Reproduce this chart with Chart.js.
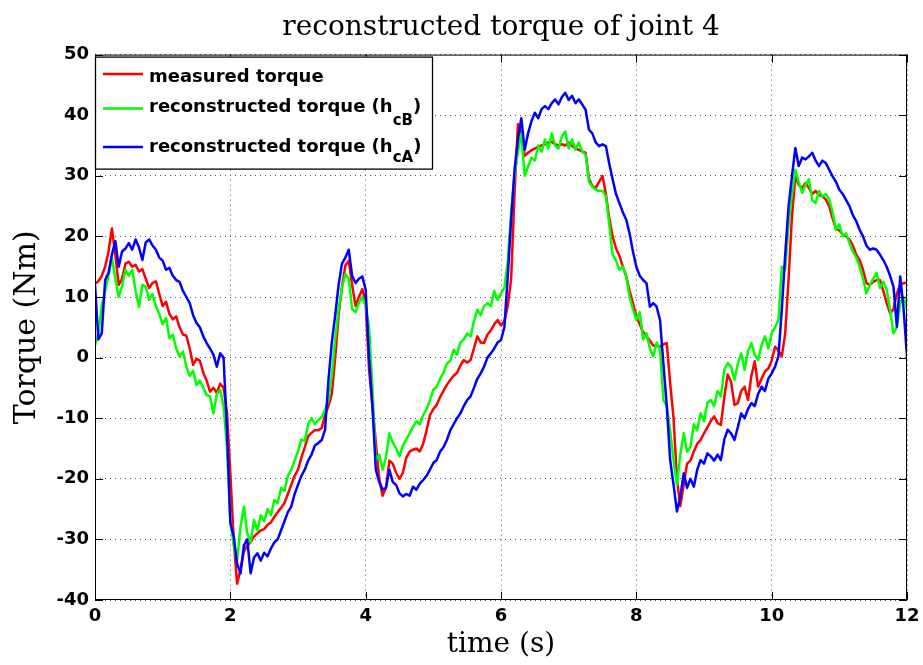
<!DOCTYPE html>
<html><head><meta charset="utf-8">
<script src="https://cdn.jsdelivr.net/npm/chart.js@4"></script>
<style>html,body{margin:0;padding:0;background:#fff;overflow:hidden}canvas{display:block}</style>
</head><body>
<canvas id="c" width="923" height="665"></canvas>
<script>
const titleText = 'reconstructed torque of joint 4';
const xTitle = 'time (s)';
const yTitle = 'Torque (Nm)';
const xTicks = [0, 2, 4, 6, 8, 10, 12];
const yTicks = [-40, -30, -20, -10, 0, 10, 20, 30, 40, 50];
const seriesNames = ['measured torque', 'reconstructed torque (hcB)', 'reconstructed torque (hcA)'];
const legendMain = ['measured torque', 'reconstructed torque (h', 'reconstructed torque (h'];
const legendSub = ['', 'cB', 'cA'];
const legendTail = ['', ')', ')'];
const seriesColors = ['#ff0000', '#00ff00', '#0000ff'];

const time = [0,0.05,0.1,0.15,0.2,0.25,0.3,0.35,0.4,0.45,0.5,0.55,0.6,0.65,0.7,0.75,0.8,0.85,0.9,0.95,
1,1.05,1.1,1.15,1.2,1.25,1.3,1.35,1.4,1.45,1.5,1.55,1.6,1.65,1.7,1.75,1.8,1.85,1.9,1.95,
2,2.05,2.1,2.15,2.2,2.25,2.3,2.35,2.4,2.45,2.5,2.55,2.6,2.65,2.7,2.75,2.8,2.85,2.9,2.95,
3,3.05,3.1,3.15,3.2,3.25,3.3,3.35,3.4,3.45,3.5,3.55,3.6,3.65,3.7,3.75,3.8,3.85,3.9,3.95,
4,4.05,4.1,4.15,4.2,4.25,4.3,4.35,4.4,4.45,4.5,4.55,4.6,4.65,4.7,4.75,4.8,4.85,4.9,4.95,
5,5.05,5.1,5.15,5.2,5.25,5.3,5.35,5.4,5.45,5.5,5.55,5.6,5.65,5.7,5.75,5.8,5.85,5.9,5.95,
6,6.05,6.1,6.15,6.2,6.25,6.3,6.35,6.4,6.45,6.5,6.55,6.6,6.65,6.7,6.75,6.8,6.85,6.9,6.95,
7,7.05,7.1,7.15,7.2,7.25,7.3,7.35,7.4,7.45,7.5,7.55,7.6,7.65,7.7,7.75,7.8,7.85,7.9,7.95,
8,8.05,8.1,8.15,8.2,8.25,8.3,8.35,8.4,8.45,8.5,8.55,8.6,8.65,8.7,8.75,8.8,8.85,8.9,8.95,
9,9.05,9.1,9.15,9.2,9.25,9.3,9.35,9.4,9.45,9.5,9.55,9.6,9.65,9.7,9.75,9.8,9.85,9.9,9.95,
10,10.05,10.1,10.15,10.2,10.25,10.3,10.35,10.4,10.45,10.5,10.55,10.6,10.65,10.7,10.75,10.8,10.85,10.9,10.95,
11,11.05,11.1,11.15,11.2,11.25,11.3,11.35,11.4,11.45,11.5,11.55,11.6,11.65,11.7,11.75,11.8,11.85,11.9,11.95,
12];

const measured = [12.2,12.6,13.5,15,17.5,21.3,17,12,13,15.5,
15.8,15,15.3,14.2,14.6,13,11.5,12.3,12.6,10.5,
8.5,9.2,7.2,6.3,6.8,5,3.8,3.6,1.5,-1.2,
-0.2,-0.5,-2.5,-3.8,-5.6,-5,-5.8,-4.3,-5,-9,
-19,-30,-37.3,-35,-32,-31,-30.5,-29.5,-29,-28.5,
-28.3,-27.6,-27.2,-26.3,-25.5,-24.8,-24,-22.5,-21,-19.5,
-18.5,-16.5,-14.8,-13,-12.4,-12,-12,-11.6,-9.5,-8,
-6,0,7,11.7,15.2,16,12,8.5,10,11.3,
9,-2,-8,-14,-20,-22.8,-21.5,-17,-17.5,-19,
-20,-19,-16.5,-15.5,-15.2,-15,-15.5,-14.2,-12,-9.5,
-8.5,-7.8,-6.5,-5.5,-4.5,-3.7,-3,-2.5,-1.3,-0.4,
-0.8,-0.4,1.5,3.5,2.5,2.4,3.8,4.5,5.5,6.2,
5.3,6,8.5,13,27,38.5,37,33.3,33.8,34.2,
34.5,34.8,35,35.2,35.5,35.6,35.2,35,35.2,35,
35.5,34.9,34.5,34.3,34,33.8,29.5,28.3,28,29,
30,27,23,20,18,16.8,15,13.5,11,9,
6.8,5.5,4.2,3.5,2.8,2,1.9,1.8,2.2,2.4,
-4.2,-10,-20,-24.5,-21,-17.5,-17,-15.5,-14.2,-13.6,
-12.5,-11.5,-10.5,-9.7,-10.8,-11.1,-6.5,-2.8,-4,-7.8,
-7.5,-5.5,-4.8,-7,-3,-0.6,-4.8,-3.5,-2.3,-1.8,
-0.5,1.8,1.2,0.2,4,13,23.3,29.9,28.5,28,
28.8,28,27,27.5,26.8,26.6,26.1,25,23,21.2,
21,20.3,20,19.5,18.5,17,16.1,14.5,12.3,12,
12.5,12.8,12.8,11,9,7.3,8,10.6,12,12.3,
12.3];

const hcB = [2,4,8.5,11,13.5,16.5,13,10,11.8,14.5,
13.5,14.5,11,8.4,12,11.7,9.5,10.5,8.5,7.2,
5.5,6.5,3.2,3.8,1.5,0.2,1,-1.5,-3,-2.2,
-4.5,-3.8,-5,-6.2,-6.4,-9.2,-6,-5.3,-8,-14.7,
-26.8,-31,-33.4,-28,-24.6,-29,-30.5,-26.8,-28.5,-26,
-27,-25,-26,-23.5,-24,-21.5,-22,-19.5,-18.5,-17,
-15.5,-13.5,-13.8,-11,-10,-11,-10.3,-9.8,-8.6,-7,
-3,3,8,11.5,13.8,13,8,7.5,9,10,
8.5,5,-5,-17,-16,-18.5,-16.5,-12.5,-14,-15,
-16.3,-14.5,-13.5,-12.5,-11.4,-10.5,-11,-9.5,-8.5,-7,
-5.3,-4.8,-3.5,-2.5,-1,-0.5,1.3,0.5,2.5,3,
4,3.5,6,7.9,7,8.5,9,8.5,11,9.5,
10.6,11.5,16,24,30,34,37,30,31.5,33,
32.5,35,34,36,34.5,37,35,34.5,36.5,37.3,
34.5,36,34.3,35.5,34,33.5,29,28.2,27.7,27.5,
27.5,26.6,22,17,16,14.5,15,13.4,10,8,
6.2,7.5,3,4,1.5,0.2,2.5,1.3,-7,-8,
-12,-17,-21,-16,-12.5,-15.5,-14.7,-11,-12,-9.2,
-10.5,-7.5,-7,-8,-5.5,-6.4,-2,-0.9,-1.5,-3.7,
-1,0.7,-2,1,2.4,0.5,-0.4,2,3.5,1.5,
4,5,6.2,15,14.5,22,27,31,29,27.2,
28.5,29.4,26,25.5,27.5,26.6,27,26.1,24,21.1,
22,20,20.5,18.9,17.5,16.5,15,13,10.6,12,
13,14,11.5,12.5,11.2,7.9,4,5,9,10,
8];

const hcA = [12,3,4,12.8,14,17,19.2,15,17.5,18,
18.9,17.8,19.5,18.2,16.1,19,19.5,18.5,17.8,16.5,
16,14.5,14.8,13.5,12.8,12.5,11,10,9,7,
5.7,5,3.5,2.4,1.5,0.5,-1.5,0.7,0,-11.9,
-27.3,-29.5,-34,-35.6,-31,-30,-35.6,-33,-32.3,-33.5,
-32.2,-32.8,-31.5,-30.5,-30,-28.5,-27,-25.5,-24.6,-22.5,
-21,-19.5,-18.5,-17,-16,-14.5,-14.1,-13.6,-11.9,-3.7,
2.5,7,12,15.5,16.5,17.8,13.5,12.3,13,13.4,
11.2,0,-8,-18.5,-20.5,-21.8,-21.5,-18.5,-20.5,-21,
-22.4,-22.9,-22.5,-22.8,-21.3,-21.8,-20.8,-20.2,-19.5,-18.5,
-17.4,-16.9,-15.5,-14.8,-13.6,-12,-11,-10,-9.2,-8,
-7,-6.4,-5,-3.5,-2.6,-1.5,0,0.7,1.5,2.5,
2.9,5,13.4,22.8,31,36,39.5,34.3,37,39,
40.4,39.5,41,41.5,41,42,42.6,41.8,43,43.7,
42.5,43.2,42,42.6,41.8,40.9,37.6,37,35.5,34.9,
35.2,34.9,32,29.4,27,25.5,24,22.8,20.5,17.5,
15,13.5,12.8,12.3,8.4,9,8.4,6.2,-1,-8,
-16.9,-21,-25.4,-23,-19.1,-21.5,-20,-21.3,-18.5,-16.9,
-17.5,-15.8,-16.3,-17,-16,-16.9,-13.5,-11.9,-12.5,-13.6,
-11.5,-9.2,-10,-8.5,-7.5,-8,-6,-4.8,-5.5,-3.5,
-2.6,-1.5,0.2,8,17,25,29.9,34.6,31.6,33,
32.7,33.2,33.8,32.5,31.6,32.5,32.1,31,29.9,29,
27.7,27,26,25,23.5,22.5,21.1,20,18.5,17.8,
18,17.8,17,16.1,15,13.5,11.7,5.1,13.4,8,
0.2];

const seriesValues = [measured, hcB, hcA];

const frameAndLegend = {
  id: 'frameAndLegend',
  afterDatasetsDraw(chart) {
    const {ctx, chartArea: a, scales: {x, y}} = chart;
    ctx.save();
    ctx.strokeStyle = '#000';
    ctx.lineWidth = 1;
    ctx.strokeRect(a.left + 0.5, a.top + 0.5, a.right - a.left - 1, a.bottom - a.top - 1);
    const L = 8;
    ctx.beginPath();
    xTicks.forEach(v => {
      const px = Math.round(x.getPixelForValue(v)) + 0.5;
      ctx.moveTo(px, a.bottom); ctx.lineTo(px, a.bottom - L);
      ctx.moveTo(px, a.top); ctx.lineTo(px, a.top + L);
    });
    yTicks.forEach(v => {
      const py = Math.round(y.getPixelForValue(v)) + 0.5;
      ctx.moveTo(a.left, py); ctx.lineTo(a.left + L, py);
      ctx.moveTo(a.right, py); ctx.lineTo(a.right - L, py);
    });
    ctx.stroke();
    ctx.restore();
  },
  afterDraw(chart) {
    const {ctx, chartArea: a} = chart;
    const bx = a.left, by = a.top + 2, bw = 337, bh = 112;
    ctx.save();
    ctx.fillStyle = '#fff';
    ctx.fillRect(bx, by, bw, bh);
    ctx.strokeStyle = '#000';
    ctx.lineWidth = 1.3;
    ctx.strokeRect(bx + 0.5, by + 0.5, bw, bh);
    const lineY = [19.5, 54, 92.5];
    const baseY = [27, 57, 97];
    const subY = [0, 70, 107];
    ctx.textBaseline = 'alphabetic';
    ctx.textAlign = 'left';
    for (let i = 0; i < 3; i++) {
      ctx.strokeStyle = seriesColors[i];
      ctx.lineWidth = 2.5;
      ctx.beginPath();
      ctx.moveTo(a.left + 8, a.top + lineY[i]);
      ctx.lineTo(a.left + 48, a.top + lineY[i]);
      ctx.stroke();
      ctx.fillStyle = '#000';
      ctx.font = 'bold 18px "DejaVu Sans"';
      let tx = a.left + 54;
      ctx.fillText(legendMain[i], tx, a.top + baseY[i]);
      tx += ctx.measureText(legendMain[i]).width;
      if (legendSub[i]) {
        ctx.font = 'bold 15px "DejaVu Sans"';
        ctx.fillText(legendSub[i], tx, a.top + subY[i]);
        tx += ctx.measureText(legendSub[i]).width;
        ctx.font = 'bold 18px "DejaVu Sans"';
        ctx.fillText(legendTail[i], tx, a.top + baseY[i]);
      }
    }
    ctx.restore();
  }
};

const datasets = seriesValues.map((vals, i) => ({
  label: seriesNames[i],
  data: time.map((t, k) => ({x: t, y: vals[k]})),
  borderColor: seriesColors[i],
  backgroundColor: seriesColors[i],
  borderWidth: 2.5,
  pointRadius: 0,
  tension: 0,
  fill: false,
  borderJoinStyle: 'round',
  order: 3 - i
}));

const gridOpts = {color: '#555', drawTicks: false, lineWidth: 1};
const borderOpts = {display: false, dash: [1, 4]};

new Chart(document.getElementById('c'), {
  type: 'line',
  data: {datasets},
  options: {
    responsive: false,
    animation: false,
    devicePixelRatio: 1,
    layout: {padding: {top: 0, right: 16, bottom: 0, left: 0}},
    plugins: {
      legend: {display: false},
      tooltip: {enabled: false},
      title: {
        display: true,
        text: titleText,
        fullSize: false,
        color: '#000',
        font: {family: 'DejaVu Serif', size: 28, weight: 'normal', lineHeight: 1.2},
        padding: {top: 11, bottom: 10}
      }
    },
    scales: {
      x: {
        type: 'linear',
        min: 0, max: 12,
        afterBuildTicks: s => { s.ticks = xTicks.map(v => ({value: v})); },
        afterFit: s => { s.height = 65; s.paddingRight = 0; s.paddingLeft = 0; },
        ticks: {color: '#000', font: {family: 'DejaVu Sans', size: 18, weight: 'bold'}, padding: 6, maxRotation: 0},
        grid: gridOpts,
        border: borderOpts,
        title: {display: true, text: xTitle, color: '#000', font: {family: 'DejaVu Serif', size: 28, weight: 'normal', lineHeight: 1.2}, padding: {top: 0, bottom: 3}}
      },
      y: {
        type: 'linear',
        min: -40, max: 50,
        afterBuildTicks: s => { s.ticks = yTicks.map(v => ({value: v})); },
        afterFit: s => { s.width = 95; },
        ticks: {color: '#000', font: {family: 'DejaVu Sans', size: 18, weight: 'bold'}, padding: 6},
        grid: gridOpts,
        border: borderOpts,
        title: {display: true, text: yTitle, color: '#000', font: {family: 'DejaVu Serif', size: 30, weight: 'normal', lineHeight: 1.2}, padding: {top: 9, bottom: 0}}
      }
    }
  },
  plugins: [frameAndLegend]
});
</script>
</body></html>
